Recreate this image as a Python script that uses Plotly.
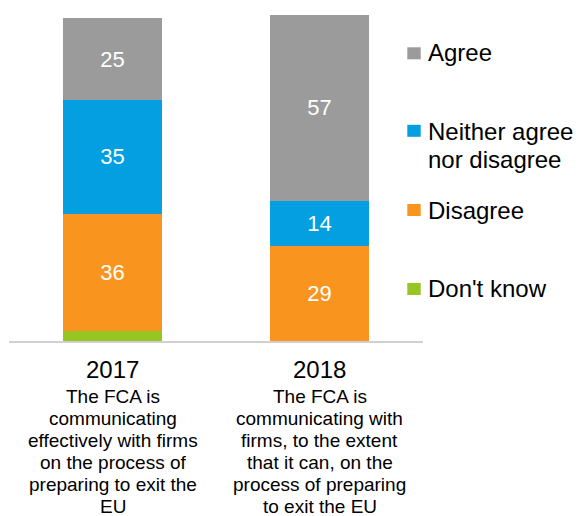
import plotly.graph_objects as go

# Survey responses (%), stacked bottom-to-top: Don't know, Disagree, Neither, Agree
categories = ["2017", "2018"]
dont_know = [3, 0]
disagree = [36, 29]
neither = [35, 14]
agree = [25, 57]

series_names = ["Don't know", "Disagree", "Neither agree<br>nor disagree", "Agree"]
series_values = [dont_know, disagree, neither, agree]
series_colors = ["#96c524", "#f9951f", "#049fe0", "#9b9b9b"]
show_labels = [False, True, True, True]

descriptions = [
    ["The FCA is", "communicating", "effectively with firms",
     "on the process of", "preparing to exit the", "EU"],
    ["The FCA is", "communicating with", "firms, to the extent",
     "that it can, on the", "process of preparing", "to exit the EU"],
]

FONT = "Liberation Sans, Arial, sans-serif"
W, H = 579, 516
M_L, M_R, M_T, M_B = 9, 156, 15, 175
PLOT_W = W - M_L - M_R
PLOT_H = H - M_T - M_B


def px_x(px):
    return (px - M_L) / PLOT_W


def px_y(py):
    return (H - M_B - py) / PLOT_H


fig = go.Figure()
for name, vals, color, lab in zip(series_names, series_values, series_colors, show_labels):
    fig.add_trace(go.Bar(
        x=categories, y=vals, name=name,
        marker=dict(color=color, line=dict(width=0)),
        text=vals if lab else None,
        texttemplate="%{y}" if lab else None,
        textposition="inside" if lab else "none",
        insidetextanchor="middle",
        textfont=dict(family=FONT, size=22, color="#ffffff"),
        hoverinfo="skip",
        showlegend=False,
    ))

annotations = []
shapes = []

# Category captions: year plus wrapped statement (x = category index on the axis)
for idx, (cat, lines) in enumerate(zip(categories, descriptions)):
    annotations.append(dict(
        x=idx, xref="x", y=0, yref="paper", yanchor="middle", xanchor="center",
        yshift=-28, text=cat, showarrow=False,
        font=dict(family=FONT, size=24, color="#000000"),
    ))
    for i, line in enumerate(lines):
        cap_center = 403.5 + 21.95 * i - 6.8
        annotations.append(dict(
            x=idx, xref="x", y=0, yref="paper", yanchor="middle", xanchor="center",
            yshift=-(cap_center - (H - M_B)), text=line, showarrow=False,
            font=dict(family=FONT, size=19, color="#000000"),
        ))

# Legend on the right: squares and labels
legend_rows = [
    ("Agree", series_colors[3], 53.3, [52.0]),
    ("Neither agree", series_colors[2], 130.8, [131.5, 159.5]),
    ("Disagree", series_colors[1], 210.0, [210.0]),
    ("Don't know", series_colors[0], 289.0, [288.5]),
]
legend_text = {"Neither agree": ["Neither agree", "nor disagree"]}
for label, color, sq_y, text_ys in legend_rows:
    shapes.append(dict(
        type="rect", xref="paper", yref="paper",
        x0=px_x(407.3), x1=px_x(420.7), y0=px_y(sq_y + 6), y1=px_y(sq_y - 6),
        fillcolor=color, line=dict(width=0),
    ))
    for txt, ty in zip(legend_text.get(label, [label]), text_ys):
        annotations.append(dict(
            x=px_x(425.5), xref="paper", y=px_y(ty), yref="paper",
            xanchor="left", yanchor="middle", text=txt, showarrow=False,
            font=dict(family=FONT, size=24, color="#000000"),
        ))

fig.update_layout(
    width=W, height=H,
    margin=dict(l=M_L, r=M_R, t=M_T, b=M_B, pad=0),
    barmode="stack", bargap=0.517,
    plot_bgcolor="#ffffff", paper_bgcolor="#ffffff",
    showlegend=False,
    annotations=annotations, shapes=shapes,
    xaxis=dict(
        type="category", range=[-0.5, 1.5], showticklabels=False,
        showgrid=False, zeroline=False, ticks="",
        showline=True, linecolor="#d0d0d0", linewidth=1.5,
    ),
    yaxis=dict(
        range=[0, 100], visible=False, showgrid=False, zeroline=False,
    ),
)

fig.write_html("out.html")
